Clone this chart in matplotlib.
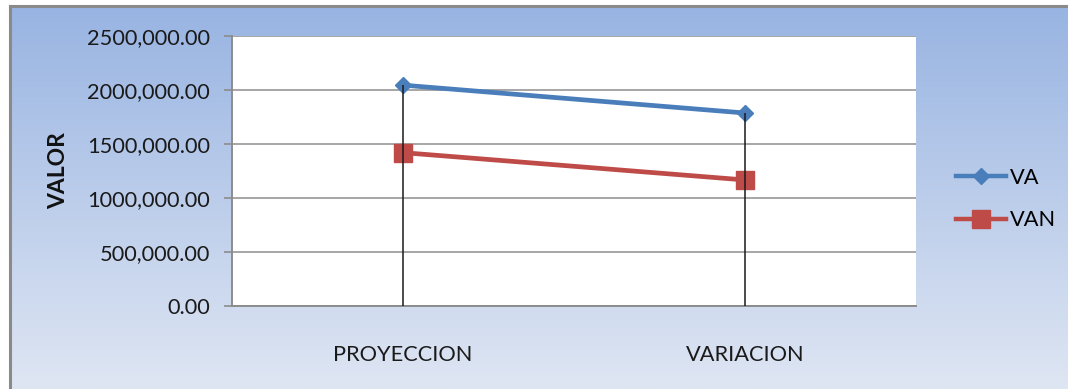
import numpy as np
import matplotlib
matplotlib.use("Agg")
import matplotlib.pyplot as plt
from matplotlib.colors import LinearSegmentedColormap
from matplotlib.lines import Line2D
from matplotlib.ticker import FuncFormatter

plt.rcParams['font.family'] = ['Lato', 'DejaVu Sans']

categories = ["PROYECCION", "VARIACION"]
va_values = [2045000, 1787000]
van_values = [1420000, 1167000]
y_ticks = [0, 500000, 1000000, 1500000, 2000000, 2500000]

W, H = 1068, 389
fig = plt.figure(figsize=(W / 100, H / 100), dpi=100)
fig.patch.set_facecolor("white")

# Gradient chart-area background with grey frame
bg = fig.add_axes([10 / W, 0, 1 - 10 / W, 1 - 6 / H])
grad = np.linspace(0, 1, 256).reshape(-1, 1)
cmap = LinearSegmentedColormap.from_list("bg", ["#98b4e2", "#dfe6f3"])
bg.imshow(grad, aspect="auto", cmap=cmap, extent=[0, 1, 0, 1], origin="upper")
bg.set_xlim(0, 1)
bg.set_ylim(0, 1)
bg.set_xticks([])
bg.set_yticks([])
for side, sp in bg.spines.items():
    if side in ("left", "top"):
        sp.set_color("#8a8a8a")
        sp.set_linewidth(2.2)
    else:
        sp.set_visible(False)

# Plot area
left, right, top, bottom = 232, 916, 36, 306
ax = fig.add_axes([left / W, 1 - bottom / H, (right - left) / W, (bottom - top) / H])
ax.set_facecolor("white")
x = np.arange(len(categories))
ax.set_xlim(-0.5, len(categories) - 0.5)
ax.set_ylim(0, 2500000)
ax.set_yticks(y_ticks)


def fmt(v, p):
    if v == 0:
        return "0.00"
    thousands = int(round(v)) // 1000
    return f"{thousands},000.00"


ax.yaxis.set_major_formatter(FuncFormatter(fmt))
ax.set_xticks(x)
ax.set_xticklabels(categories)
ax.grid(axis="y", color="#a6a6a6", linewidth=1.4)
ax.set_axisbelow(True)
for side in ("top", "right"):
    ax.spines[side].set_visible(False)
for side in ("left", "bottom"):
    ax.spines[side].set_color("#8c8c8c")
    ax.spines[side].set_linewidth(1.4)
ax.tick_params(axis="y", length=6, width=1.2, color="#8c8c8c", labelsize=15.7, pad=10, labelcolor="#1a1a1a")
ax.tick_params(axis="x", length=0, labelsize=15.7, pad=28, labelcolor="#1a1a1a")

blue = "#4a7ebb"
red = "#be4b48"
ax.plot(x, va_values, color=blue, linewidth=3.4, marker="D", markersize=8.5, zorder=3)
ax.plot(x, van_values, color=red, linewidth=3.4, marker="s", markersize=13, zorder=3)

# Drop lines from the highest point of each category to the axis
tops = np.maximum(va_values, van_values)
ax.vlines(x, 0, tops, color="#1a1a1a", linewidth=1.1, zorder=4)

ax.set_ylabel("VALOR", fontsize=16.5, fontweight="bold", color="#111111")
ax.yaxis.set_label_coords(-(232 - 69) / (right - left), 0.5)

handles = [
    Line2D([], [], color=blue, linewidth=3.2, marker="D", markersize=8.5),
    Line2D([], [], color=red, linewidth=3.2, marker="s", markersize=13),
]
fig.legend(handles, ["VA", "VAN"], loc="center left", bbox_to_anchor=(936 / W, 1 - 199 / H),
           frameon=False, fontsize=15.7, handlelength=2.3, handletextpad=0.2, labelspacing=1.05)

fig.savefig("out.png", dpi=100)
